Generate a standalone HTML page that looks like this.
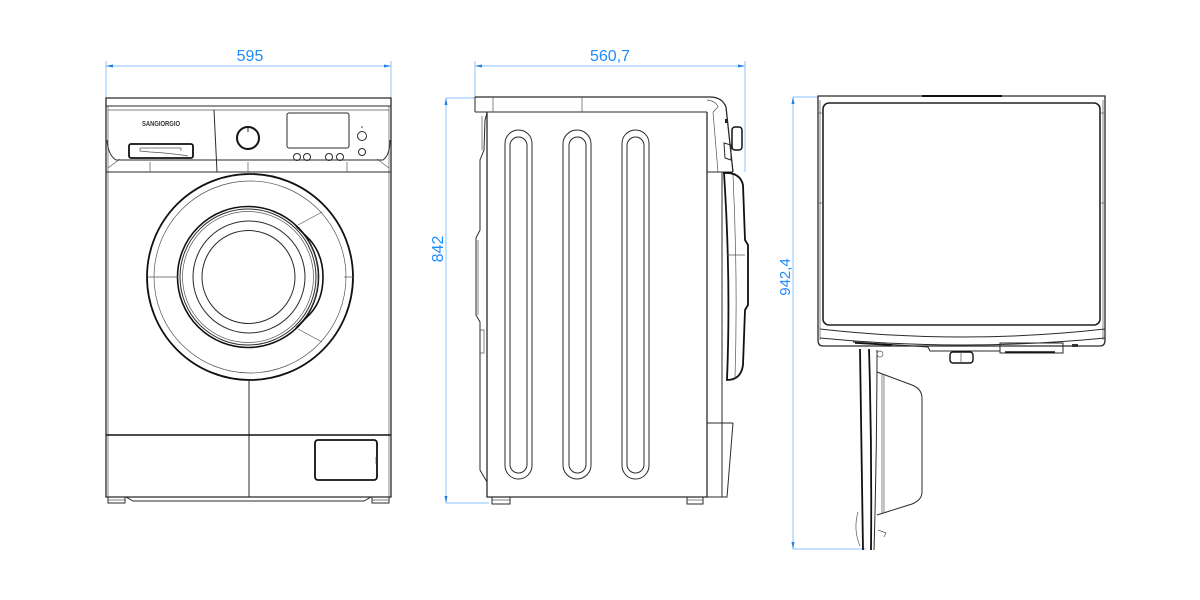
<!DOCTYPE html>
<html>
<head>
<meta charset="utf-8">
<style>
  html,body{margin:0;padding:0;background:#fff;}
  svg{display:block;}
  .t{font-family:"Liberation Sans",Arial,sans-serif;font-size:16px;fill:#1e8cff;}
  .d{stroke:#9fcfff;stroke-width:1.2;fill:none;}
  .a{fill:#1e7fe6;}
  .k{stroke:#2a2a2a;stroke-width:1;fill:none;}
  .kt{stroke:#555;stroke-width:0.7;fill:none;}
  .kb{stroke:#111;stroke-width:1.8;fill:none;}
</style>
</head>
<body>
<svg width="1200" height="600" viewBox="0 0 1200 600" xmlns="http://www.w3.org/2000/svg">
<rect width="1200" height="600" fill="#fff"/>

<!-- ================= FRONT VIEW ================= -->
<!-- dimension -->
<line class="d" x1="106" y1="61" x2="106" y2="98"/>
<line class="d" x1="391" y1="61" x2="391" y2="98"/>
<line class="d" x1="106" y1="66" x2="391" y2="66"/>
<polygon class="a" points="106,66 113,64.5 113,67.5"/>
<polygon class="a" points="391,66 384,64.5 384,67.5"/>
<text class="t" x="250" y="61" text-anchor="middle">595</text>

<!-- body outline -->
<path class="k" d="M106 98 L391 98 L391 497 L106 497 Z" style="stroke-width:1.3"/>
<line class="kt" x1="108" y1="106" x2="108" y2="497"/>
<line class="kt" x1="389" y1="106" x2="389" y2="497"/>
<line class="k" x1="106" y1="106" x2="391" y2="106"/>
<line class="kt" x1="108" y1="110" x2="389" y2="110"/>
<!-- control panel -->
<line class="k" x1="214" y1="110" x2="217" y2="172"/>
<path class="k" d="M107 140 Q108 155 116 160 L383 160 Q390 155 390 140"/>
<line class="k" x1="106" y1="172" x2="391" y2="172"/>
<line class="kt" x1="150" y1="162" x2="150" y2="172"/>
<line class="kt" x1="248" y1="162" x2="248" y2="172"/>
<line class="kt" x1="347" y1="162" x2="347" y2="172"/>
<line class="kt" x1="108" y1="168" x2="120" y2="159"/>
<line class="kt" x1="389" y1="168" x2="377" y2="159"/>
<text x="142" y="126" font-family="Liberation Sans, Arial, sans-serif" font-size="7.5" font-weight="bold" fill="#333" textLength="38" lengthAdjust="spacingAndGlyphs">SANGIORGIO</text>
<!-- drawer -->
<rect x="129" y="144" width="64" height="14" rx="2" fill="none" stroke="#111" stroke-width="1.8"/>
<path class="kt" d="M140 148 L181 148 L181 151 M140 148 L140 151 L150 152 Q170 153 188 156"/>
<!-- knob -->
<circle cx="248" cy="138" r="11" fill="none" stroke="#111" stroke-width="2"/>
<line class="k" x1="248" y1="127" x2="248" y2="132"/>
<!-- display -->
<rect x="287" y="113" width="62" height="35" rx="2" class="k"/>
<circle class="k" cx="297" cy="157" r="3.5"/>
<circle class="k" cx="307" cy="157" r="3.5"/>
<circle class="k" cx="329" cy="157" r="3.5"/>
<circle class="k" cx="340" cy="157" r="3.5"/>
<circle class="k" cx="362" cy="136" r="4.5"/>
<circle class="k" cx="362" cy="152" r="3.5"/>
<circle cx="362" cy="127" r="0.8" fill="#333"/>

<!-- door -->
<circle cx="250" cy="277" r="103" fill="none" stroke="#111" stroke-width="1.8"/>
<circle cx="250" cy="277" r="96" class="kt"/>
<circle cx="248" cy="277" r="70.5" fill="none" stroke="#111" stroke-width="1.6"/>
<circle cx="248" cy="277" r="68" class="k"/>
<circle cx="248" cy="277" r="65.5" class="kt"/>
<circle cx="249" cy="277" r="56" class="k"/>
<circle cx="248.5" cy="277" r="46.5" class="k"/>
<path d="M296 226 L310 240 Q323 255 323 277 Q323 300 310 314 L296 328" fill="none" stroke="#111" stroke-width="1.6"/>
<path class="kt" d="M306 238 Q318 255 318 277 Q318 299 306 316"/>
<line class="kt" x1="148" y1="277" x2="178" y2="277"/>
<line class="kt" x1="344" y1="277" x2="353" y2="277"/>
<line class="kt" x1="298" y1="225" x2="322" y2="212"/>
<line class="kt" x1="298" y1="329" x2="322" y2="342"/>
<line class="kt" x1="250" y1="172" x2="250" y2="174"/>
<line class="k" x1="249" y1="380" x2="249" y2="497"/>

<!-- lower panel -->
<line x1="106" y1="435" x2="391" y2="435" stroke="#111" stroke-width="1.6"/>
<rect x="315" y="440" width="62" height="40" rx="3" fill="none" stroke="#111" stroke-width="1.8"/>
<line class="kt" x1="376" y1="457" x2="376" y2="464"/>
<!-- base & feet -->
<path class="k" d="M126 497 L133 501 L364 501 L371 497"/>
<rect x="108" y="497" width="17" height="6" class="k"/>
<line class="kt" x1="108" y1="500" x2="125" y2="500"/>
<rect x="372" y="497" width="17" height="6" class="k"/>
<line class="kt" x1="372" y1="500" x2="389" y2="500"/>

<!-- ================= SIDE VIEW ================= -->
<line class="d" x1="475" y1="61" x2="475" y2="98"/>
<line class="d" x1="745" y1="61" x2="745" y2="172"/>
<line class="d" x1="475" y1="66" x2="745" y2="66"/>
<polygon class="a" points="475,66 482,64.5 482,67.5"/>
<polygon class="a" points="745,66 738,64.5 738,67.5"/>
<text class="t" x="610" y="61" text-anchor="middle">560,7</text>

<line class="d" x1="446" y1="98" x2="446" y2="503"/>
<line class="d" x1="446" y1="98" x2="475" y2="98"/>
<line class="d" x1="446" y1="503" x2="489" y2="503"/>
<polygon class="a" points="446,98 444.5,105 447.5,105"/>
<polygon class="a" points="446,503 444.5,496 447.5,496"/>
<text class="t" x="0" y="0" text-anchor="middle" transform="translate(443,249) rotate(-90)">842</text>

<!-- top panel -->
<path class="k" d="M475 97 L710 97 Q722 97 726 107 L733 172" style="stroke-width:1.3"/>
<path class="kt" d="M707 100 Q716 101 718 107 L713 112"/>
<line class="k" x1="475" y1="97" x2="475" y2="112"/>
<line class="k" x1="475" y1="112" x2="707" y2="112"/>
<line class="kt" x1="493" y1="97" x2="493" y2="112"/>
<line class="kt" x1="582" y1="97" x2="582" y2="112"/>
<line class="kt" x1="713" y1="112" x2="718" y2="172"/>
<rect x="725" y="119" width="3" height="4" fill="#222"/>
<rect x="732" y="127" width="10" height="23" rx="3" fill="none" stroke="#111" stroke-width="1.5"/>
<path class="k" d="M724 143 L731 145 L731 160 L725 158 Z"/>
<!-- body -->
<path class="k" d="M487 112 L487 497 L707 497 L707 112" style="stroke-width:1.3"/>
<!-- back profile -->
<path class="k" d="M487 113 L485 120 L484 150 L480 160 L480 230 L476 238 L476 315 L480 322 L480 470 L487 482"/>
<path class="kt" d="M482 116 L482 150 M478 240 L478 315 M480 330 L484 330 L484 353 L480 353"/>
<!-- slots -->
<rect x="505" y="130" width="27" height="349" rx="13.5" class="k"/>
<rect x="510" y="137" width="17" height="336" rx="8.5" class="k"/>
<rect x="563" y="130" width="28" height="349" rx="14" class="k"/>
<rect x="569" y="137" width="17" height="336" rx="8.5" class="k"/>
<rect x="622" y="130" width="27" height="349" rx="13.5" class="k"/>
<rect x="627" y="137" width="17" height="336" rx="8.5" class="k"/>
<!-- front panel -->
<line class="k" x1="722" y1="172" x2="722" y2="497"/>
<line class="k" x1="707" y1="172" x2="733" y2="172"/>
<line class="k" x1="707" y1="423" x2="733" y2="423"/>
<path class="k" d="M733 423 L727 497 L707 497"/>
<!-- door side -->
<path d="M724 173 Q740 172 743 185 L745 240 L748 245 L748 305 L745 310 L743 365 Q741 380 727 380 Q731 280 724 173 Z" fill="none" stroke="#111" stroke-width="1.8"/>
<path class="kt" d="M733 175 Q738 280 735 378"/>
<line class="kt" x1="727" y1="255" x2="745" y2="255"/>
<!-- feet -->
<rect x="492" y="497" width="18" height="7" class="k"/>
<line class="kt" x1="492" y1="500" x2="510" y2="500"/>
<rect x="687" y="497" width="16" height="7" class="k"/>
<line class="kt" x1="687" y1="500" x2="703" y2="500"/>

<!-- ================= TOP VIEW ================= -->
<line class="d" x1="793" y1="97" x2="793" y2="549"/>
<line class="d" x1="793" y1="97" x2="818" y2="97"/>
<line class="d" x1="793" y1="549" x2="866" y2="549"/>
<polygon class="a" points="793,97 791.5,104 794.5,104"/>
<polygon class="a" points="793,549 791.5,542 794.5,542"/>
<text class="t" x="0" y="0" text-anchor="middle" font-size="15" transform="translate(790,277) rotate(-90)" style="font-size:15px">942,4</text>

<path class="k" d="M818 96 L1105 96 L1105 340 Q1105 346 1100 346 L823 346 Q818 346 818 340 Z" style="stroke-width:1.3"/>
<line x1="922" y1="96" x2="1002" y2="96" stroke="#111" stroke-width="2"/>
<line class="kt" x1="820" y1="100" x2="820" y2="340"/>
<line class="kt" x1="1103" y1="100" x2="1103" y2="340"/>
<rect x="823" y="103" width="277" height="222" rx="6" fill="none" stroke="#222" stroke-width="1.6"/>
<line class="kt" x1="818" y1="113" x2="823" y2="113"/>
<line class="kt" x1="1100" y1="113" x2="1105" y2="113"/>
<line class="kt" x1="818" y1="203" x2="823" y2="203"/>
<line class="kt" x1="1100" y1="203" x2="1105" y2="203"/>
<path class="k" d="M820 329 Q962 345 1105 329"/>
<path class="k" d="M820 338 Q962 352 1105 338"/>
<!-- control bits -->
<path class="k" d="M853 342 L928 347 L930 351 L1000 351"/>
<line x1="855" y1="343" x2="892" y2="345" stroke="#111" stroke-width="1.6"/>
<rect x="950" y="352" width="23" height="11" rx="3" fill="none" stroke="#111" stroke-width="1.4"/>
<line class="kt" x1="961" y1="352" x2="961" y2="363"/>
<rect x="1000" y="343" width="63" height="10" class="k"/>
<line x1="1005" y1="352" x2="1055" y2="352" stroke="#111" stroke-width="1.5"/>
<rect x="1072" y="344" width="6" height="3" fill="#333"/>
<!-- door open -->
<path d="M860 349 L863 550" stroke="#111" stroke-width="1.8" fill="none"/>
<path d="M869 349 Q872 450 871 550" stroke="#111" stroke-width="1.8" fill="none"/>
<path class="k" d="M877 350 Q877 450 874 550"/>
<path class="k" d="M877 372 L912 385 Q922 389 922 398 L922 492 Q922 500 912 504 L877 515"/>
<path class="kt" d="M882 374 L882 513"/>
<path class="kt" d="M884 375 L884 512"/>
<path class="kt" d="M858 512 Q853 530 860 546"/>
<path class="kt" d="M878 530 L886 533 L884 537"/>
<circle class="kt" cx="880" cy="354" r="3"/>
</svg>
</body>
</html>
